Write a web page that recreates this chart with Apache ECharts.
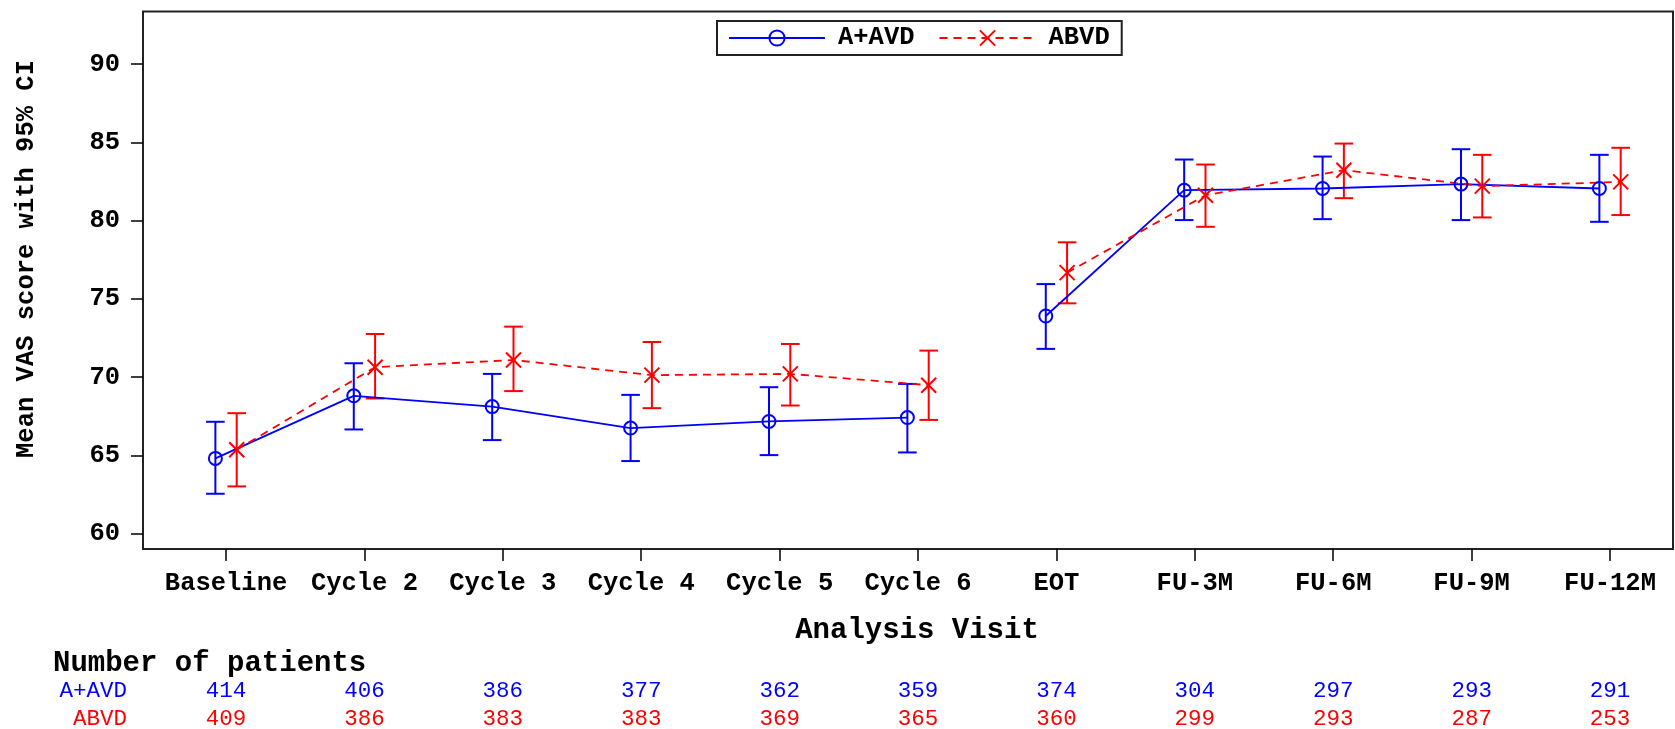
<!DOCTYPE html>
<html><head><meta charset="utf-8">
<script src="https://cdn.jsdelivr.net/npm/echarts@6/dist/echarts.min.js"></script>
<style>html,body{margin:0;padding:0;background:#fff}#c{width:1675px;height:729px}</style>
</head><body><div id="c"></div>
<script>
// ---------- data ----------
const visits = ['Baseline','Cycle 2','Cycle 3','Cycle 4','Cycle 5','Cycle 6','EOT','FU-3M','FU-6M','FU-9M','FU-12M'];
const aavdMean  = [64.81, 68.81, 68.12, 66.75, 67.17, 67.42, 73.91, 81.95, 82.06, 82.34, 82.06];
const aavdLower = [62.55, 66.66, 65.98, 64.64, 65.02, 65.19, 71.81, 80.04, 80.10, 80.04, 79.93];
const aavdUpper = [67.15, 70.89, 70.21, 68.87, 69.36, 69.57, 75.95, 83.91, 84.10, 84.57, 84.21];
const abvdMean  = [65.36, 70.64, 71.10, 70.13, 70.21, 69.49, 76.68, 81.63, 83.23, 82.21, 82.48];
const abvdLower = [63.02, 68.64, 69.11, 68.02, 68.19, 67.27, 74.72, 79.61, 81.44, 80.21, 80.36];
const abvdUpper = [67.70, 72.76, 73.23, 72.25, 72.12, 71.70, 78.62, 83.59, 84.93, 84.21, 84.66];
const aavdN = [414, 406, 386, 377, 362, 359, 374, 304, 297, 293, 291];
const abvdN = [409, 386, 383, 383, 369, 365, 360, 299, 293, 287, 253];
const yTicks = [60, 65, 70, 75, 80, 85, 90];
const gapAfter = 'Cycle 6'; // the line is broken after this visit

// ---------- styles ----------
const BLUE = '#0000ff', RED = '#ff0000';
const MONO = '"Liberation Mono", "DejaVu Sans Mono", monospace';
const OFF = 0.077;        // cluster offset (category units)
const CAP = 9.3;          // error bar half-cap in px

const gapIdx = visits.indexOf(gapAfter);
function lineData(means, off) {
  const d = [];
  means.forEach((v, i) => {
    d.push([i + off, v]);
    if (i === gapIdx) d.push([i + 0.5, '-']);
  });
  return d;
}
function barData(lo, hi, off) { return lo.map((l, i) => [i + off, l, hi[i]]); }
function errRender(color) {
  return function (params, api) {
    const x = api.value(0), lo = api.value(1), hi = api.value(2);
    const a = api.coord([x, lo]), b = api.coord([x, hi]);
    const st = { stroke: color, lineWidth: 2 };
    return { type: 'group', children: [
      { type: 'line', shape: { x1: a[0], y1: a[1], x2: b[0], y2: b[1] }, style: st },
      { type: 'line', shape: { x1: a[0] - CAP, y1: a[1], x2: a[0] + CAP, y2: a[1] }, style: st },
      { type: 'line', shape: { x1: b[0] - CAP, y1: b[1], x2: b[0] + CAP, y2: b[1] }, style: st }
    ]};
  };
}

const chart = echarts.init(document.getElementById('c'), null, { renderer: 'canvas' });
const xTickVals = visits.map((v, i) => i);
chart.setOption({
  animation: false,
  backgroundColor: '#fff',
  grid: { left: 143, right: 2, top: 11.5, bottom: 180, show: true, borderColor: '#222', borderWidth: 2, backgroundColor: 'transparent' },
  legend: {
    data: ['A+AVD', 'ABVD'],
    left: 717, top: 21,
    itemWidth: 96, itemHeight: 19, itemGap: 24,
    padding: [4, 12, 4, 11],
    borderColor: '#222', borderWidth: 2,
    textStyle: { fontFamily: MONO, fontWeight: 'bold', fontSize: 25.5, color: '#000', padding: [0, 0, 0, 8], lineHeight: 25 }
  },
  xAxis: {
    type: 'value', min: -0.6, max: 10.455,
    splitLine: { show: false },
    axisLine: { show: false, onZero: false },
    axisTick: { show: true, length: 12, lineStyle: { color: '#000', width: 1.5 }, customValues: xTickVals },
    axisLabel: { customValues: xTickVals, margin: 22, fontFamily: MONO, fontWeight: 'bold', fontSize: 25.5, color: '#000',
      formatter: v => visits[Math.round(v)] }
  },
  yAxis: {
    type: 'value', min: 59.02, max: 93.37,
    splitLine: { show: false },
    axisLine: { show: false, onZero: false },
    axisTick: { show: true, length: 12, lineStyle: { color: '#000', width: 1.5 }, customValues: yTicks },
    axisLabel: { customValues: yTicks, margin: 23, fontFamily: MONO, fontWeight: 'bold', fontSize: 25.5, color: '#000' }
  },
  series: [
    { name: 'A+AVD err', type: 'custom', renderItem: errRender(BLUE), data: barData(aavdLower, aavdUpper, -OFF), encode: { x: 0, y: [1, 2] }, z: 2 },
    { name: 'ABVD err', type: 'custom', renderItem: errRender(RED), data: barData(abvdLower, abvdUpper, OFF), encode: { x: 0, y: [1, 2] }, z: 2 },
    { name: 'A+AVD', type: 'line', data: lineData(aavdMean, -OFF), connectNulls: false,
      symbol: 'circle', symbolSize: 13,
      lineStyle: { color: BLUE, width: 1.8, type: 'solid' },
      itemStyle: { color: 'rgba(0,0,0,0)', borderColor: BLUE, borderWidth: 2 }, z: 3 },
    { name: 'ABVD', type: 'line', data: lineData(abvdMean, OFF), connectNulls: false,
      symbol: 'path://M0,0L10,10M10,0L0,10', symbolSize: 15,
      lineStyle: { color: RED, width: 1.8, type: [8, 6] },
      itemStyle: { color: RED, borderColor: RED, borderWidth: 2 }, z: 3 }
  ]
});

// ---------- titles and patient-count table ----------
const g = [];
g.push({ type: 'text', x: 26.7, y: 259, rotation: Math.PI / 2,
  style: { text: 'Mean VAS score with 95% CI', font: 'bold 25.5px ' + MONO, fill: '#000', align: 'center', verticalAlign: 'middle' } });
g.push({ type: 'text', x: 917, y: 631,
  style: { text: 'Analysis Visit', font: 'bold 29px ' + MONO, fill: '#000', align: 'center', verticalAlign: 'middle' } });
g.push({ type: 'text', x: 53, y: 664,
  style: { text: 'Number of patients', font: 'bold 29px ' + MONO, fill: '#000', align: 'left', verticalAlign: 'middle' } });
g.push({ type: 'text', x: 127, y: 691, style: { text: 'A+AVD', font: '22.5px ' + MONO, fill: BLUE, align: 'right', verticalAlign: 'middle' } });
g.push({ type: 'text', x: 127, y: 719, style: { text: 'ABVD', font: '22.5px ' + MONO, fill: RED, align: 'right', verticalAlign: 'middle' } });
visits.forEach((v, i) => {
  const x = chart.convertToPixel({ xAxisIndex: 0 }, i);
  g.push({ type: 'text', x: x, y: 691, style: { text: String(aavdN[i]), font: '22.5px ' + MONO, fill: BLUE, align: 'center', verticalAlign: 'middle' } });
  g.push({ type: 'text', x: x, y: 719, style: { text: String(abvdN[i]), font: '22.5px ' + MONO, fill: RED, align: 'center', verticalAlign: 'middle' } });
});
chart.setOption({ graphic: g });
</script>
</body></html>
